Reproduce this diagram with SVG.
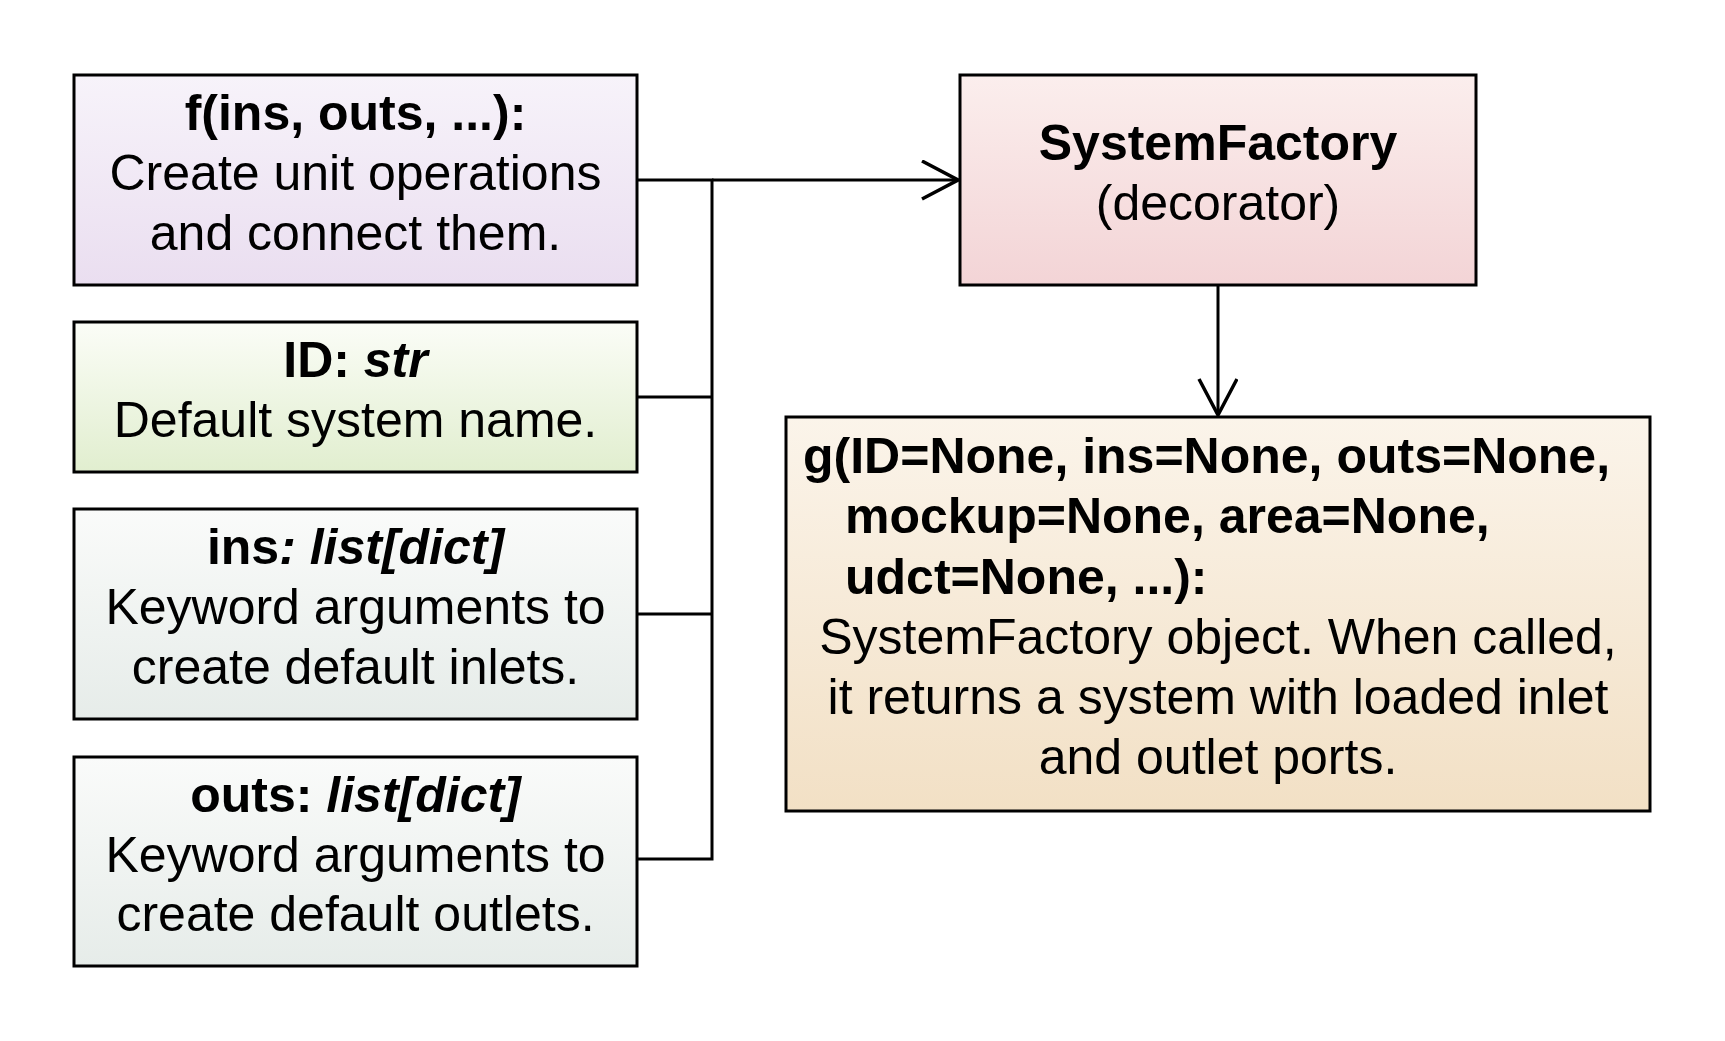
<svg xmlns="http://www.w3.org/2000/svg" width="1725" height="1041" viewBox="0 0 1725 1041">
<style>
.box{stroke:#000;stroke-width:3}
text{font-family:"Liberation Sans",Arial,sans-serif;font-size:50px;fill:#000}
.c{text-anchor:middle}
.b{font-weight:bold}
.bi{font-weight:bold;font-style:italic}
.ln{fill:none;stroke:#000;stroke-width:3}
</style>
<defs>
<linearGradient id="gPurple" x1="0" y1="0" x2="0" y2="1"><stop offset="0" stop-color="#f7f3fa"/><stop offset="1" stop-color="#eadef0"/></linearGradient>
<linearGradient id="gGreen" x1="0" y1="0" x2="0" y2="1"><stop offset="0" stop-color="#fbfdf7"/><stop offset="1" stop-color="#e1eecf"/></linearGradient>
<linearGradient id="gGray" x1="0" y1="0" x2="0" y2="1"><stop offset="0" stop-color="#fafbfa"/><stop offset="1" stop-color="#e6ece9"/></linearGradient>
<linearGradient id="gPink" x1="0" y1="0" x2="0" y2="1"><stop offset="0" stop-color="#fbeeed"/><stop offset="1" stop-color="#f3d4d6"/></linearGradient>
<linearGradient id="gTan" x1="0" y1="0" x2="0" y2="1"><stop offset="0" stop-color="#fbf4ea"/><stop offset="1" stop-color="#f2e0c5"/></linearGradient>
<marker id="arr" markerWidth="40" markerHeight="44" refX="37" refY="20" orient="auto" markerUnits="userSpaceOnUse">
<path d="M1,1 L37,20 L1,39" fill="none" stroke="#000" stroke-width="3.5"/>
</marker>
</defs>
<g id="connectors">
<path class="ln" d="M637,180 H712 V859 H637"/>
<path class="ln" d="M637,397 H712"/>
<path class="ln" d="M637,614 H712"/>
<path class="ln" d="M712,180 H958" marker-end="url(#arr)"/>
<path class="ln" d="M1218,285 V415" marker-end="url(#arr)"/>
</g>
<g id="node-f">
<rect class="box" x="74" y="75" width="563" height="210" fill="url(#gPurple)"/>
<text class="c b" x="355.5" y="130">f(ins, outs, ...):</text>
<text class="c" x="355.5" y="190">Create unit operations</text>
<text class="c" x="355.5" y="250">and connect them.</text>
</g>
<g id="node-id">
<rect class="box" x="74" y="322" width="563" height="150" fill="url(#gGreen)"/>
<text class="c" x="355.5" y="377"><tspan class="b">ID: </tspan><tspan class="bi">str</tspan></text>
<text class="c" x="355.5" y="437">Default system name.</text>
</g>
<g id="node-ins">
<rect class="box" x="74" y="509" width="563" height="210" fill="url(#gGray)"/>
<text class="c" x="355.5" y="564"><tspan class="b">ins</tspan><tspan class="bi">: list[dict]</tspan></text>
<text class="c" x="355.5" y="624">Keyword arguments to</text>
<text class="c" x="355.5" y="684">create default inlets.</text>
</g>
<g id="node-outs">
<rect class="box" x="74" y="757" width="563" height="209" fill="url(#gGray)"/>
<text class="c" x="355.5" y="812"><tspan class="b">outs: </tspan><tspan class="bi">list[dict]</tspan></text>
<text class="c" x="355.5" y="872">Keyword arguments to</text>
<text class="c" x="355.5" y="931">create default outlets.</text>
</g>
<g id="node-systemfactory">
<rect class="box" x="960" y="75" width="516" height="210" fill="url(#gPink)"/>
<text class="c b" x="1218" y="160">SystemFactory</text>
<text class="c" x="1218" y="220">(decorator)</text>
</g>
<g id="node-g">
<rect class="box" x="786" y="417" width="864" height="394" fill="url(#gTan)"/>
<text class="b" x="803" y="473">g(ID=None, ins=None, outs=None,</text>
<text class="b" x="845" y="533">mockup=None, area=None,</text>
<text class="b" x="845" y="594">udct=None, ...):</text>
<text class="c" x="1218" y="654">SystemFactory object. When called,</text>
<text class="c" x="1218" y="714">it returns a system with loaded inlet</text>
<text class="c" x="1218" y="774">and outlet ports.</text>
</g>
</svg>
